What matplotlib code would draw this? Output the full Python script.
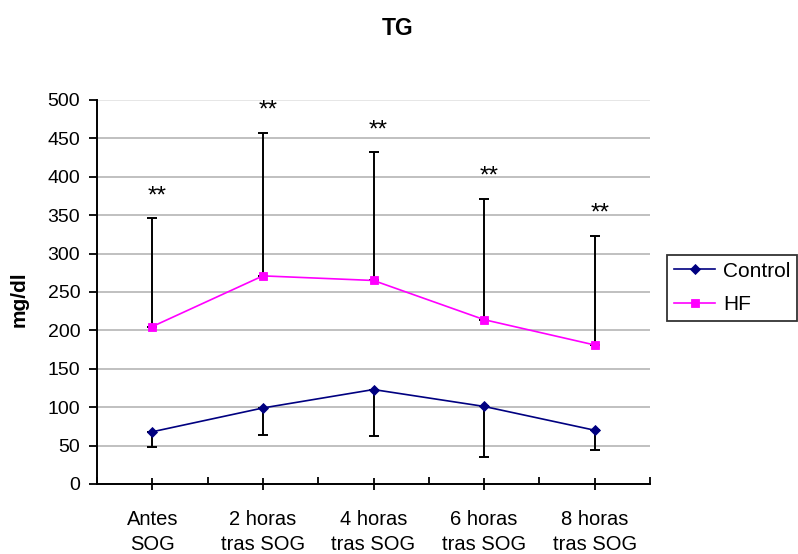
import matplotlib
matplotlib.use("Agg")
import matplotlib.pyplot as plt
import numpy as np

plt.rcParams['font.family'] = ['Liberation Sans', 'DejaVu Sans']

categories = ["Antes\nSOG", "2 horas\ntras SOG", "4 horas\ntras SOG", "6 horas\ntras SOG", "8 horas\ntras SOG"]
control_mean = [68, 99, 123, 101, 70]
control_lower = [48, 64, 62, 35, 44]
hf_mean = [205, 271, 265, 214, 181]
hf_upper = [346, 457, 432, 371, 323]
star_labels = ["**", "**", "**", "**", "**"]

W, H = 798, 554
fig = plt.figure(figsize=(W / 100, H / 100), dpi=100)
ax = fig.add_axes([97 / W, 1 - 484 / H, (650 - 97) / W, (484 - 100) / H])

x = np.arange(len(categories))

# error bars: control downward only, HF upward only
c_err = [np.array(control_mean) - np.array(control_lower), np.zeros(len(x))]
h_err = [np.zeros(len(x)), np.array(hf_upper) - np.array(hf_mean)]
for mean, err in ((control_mean, c_err), (hf_mean, h_err)):
    ax.errorbar(x, mean, yerr=err, fmt='none', ecolor='black',
                elinewidth=1.4, capsize=3.6, capthick=1.4, zorder=2)

ax.plot(x, control_mean, color='#000080', marker='D', markersize=5.5,
        markeredgewidth=0.6, linewidth=1.2, label='Control', zorder=3)
ax.plot(x, hf_mean, color='#FF00FF', marker='s', markersize=6,
        markeredgewidth=0.6, linewidth=1.2, label='HF', zorder=3)

# significance marks above each HF error bar
for xi, top, s in zip(x, hf_upper, star_labels):
    ax.text(xi + 0.045, top + 21, s, ha='center', va='baseline', fontsize=17.5)

ax.set_xlim(-0.5, len(x) - 0.5)
ax.set_ylim(0, 500)
ax.set_yticks(np.arange(0, 501, 50))
ax.yaxis.grid(True, color='#c0c0c0', linewidth=1.4)
ax.get_ygridlines()[-1].set_color('#e6e6e6')
ax.set_axisbelow(True)

ax.set_xticks(x)
ax.set_xticklabels(categories, fontsize=14.5, linespacing=1.4)
ax.set_xticks(np.arange(-0.5, len(x), 1.0), minor=True)
ax.tick_params(axis='x', which='major', direction='inout', length=9, width=1.3, pad=14.5)
ax.tick_params(axis='x', which='minor', direction='in', length=5, width=1.3)
ax.tick_params(axis='y', direction='out', length=6, width=1.3, labelsize=14, pad=6)

for side in ['top', 'right']:
    ax.spines[side].set_visible(False)
for side in ['left', 'bottom']:
    ax.spines[side].set_linewidth(1.4)
    ax.spines[side].set_color('black')

ax.set_ylabel('mg/dl', fontsize=15, fontweight='bold')
ax.yaxis.set_label_coords((19.5 - 97) / (650 - 97), 0.48)
ax.yaxis.label.set_verticalalignment('center')

fig.text(397.5 / W, 1 - 28.7 / H, 'TG', ha='center', va='center',
         fontsize=16.5, fontweight='bold')

leg = fig.legend(loc='upper left', bbox_to_anchor=(667 / W, 1 - 255 / H),
                 frameon=True, fancybox=False, fontsize=15, handlelength=2.0,
                 borderpad=0.32, labelspacing=0.68, handletextpad=0.38,
                 borderaxespad=0)
leg.get_frame().set_edgecolor('black')
leg.get_frame().set_linewidth(1.3)

fig.savefig('out.png', dpi=100)
